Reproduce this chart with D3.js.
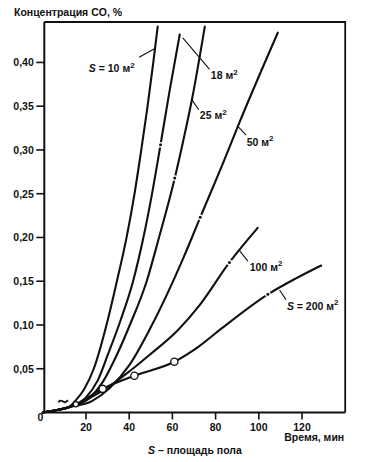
<!DOCTYPE html>
<html><head><meta charset="utf-8">
<script src="https://cdn.jsdelivr.net/npm/d3@7"></script>
<style>
body{margin:0;background:#fff}
svg{display:block}
text{font-family:"Liberation Sans",Arial,sans-serif;font-weight:bold;fill:#111}
</style>
</head><body>
<svg id="c" width="366" height="462"></svg>
<script>
// ---- data ----
const yTicks = [0.05, 0.10, 0.15, 0.20, 0.25, 0.30, 0.35, 0.40];
const yTickLabels = ["0,05", "0,10", "0,15", "0,20", "0,25", "0,30", "0,35", "0,40"];
const xTicks = [20, 40, 60, 80, 100, 120];
const xTickLabels = ["20", "40", "60", "80", "100", "120"];

const s10 = [[0,0],[6,0.0025],[12,0.006],[15.3,0.014],[19,0.026],[23.6,0.05],[30.1,0.106],[34.3,0.15],[38.7,0.199],[42.4,0.249],[45.4,0.297],[48.4,0.348],[51.2,0.401],[53.2,0.441]];
const s18 = [[0,0],[6,0.0025],[12,0.006],[19.9,0.017],[25.5,0.037],[30.1,0.066],[36.1,0.106],[41.8,0.15],[46.5,0.199],[50.5,0.249],[54.5,0.306],[58.8,0.369],[63.4,0.432]];
const s25 = [[0,0],[6,0.0025],[12,0.006],[21.8,0.017],[27.8,0.035],[34.3,0.066],[40.3,0.1],[48.1,0.15],[53.7,0.199],[61.1,0.268],[64.8,0.308],[69.0,0.357],[75.0,0.441]];
const s50 = [[0,0],[6,0.0025],[12,0.006],[22.7,0.013],[31,0.028],[40.3,0.055],[49.5,0.095],[64.8,0.175],[72.9,0.223],[84.1,0.289],[90.3,0.327],[108.8,0.434]];
const s100 = [[0,0],[6,0.0025],[12,0.006],[17.1,0.011],[26.4,0.023],[38,0.043],[49.5,0.066],[62.5,0.094],[72.7,0.123],[86.4,0.1715],[99.5,0.211]];
const s200 = [[0,0],[6,0.0025],[12,0.006],[15.3,0.0095],[27.7,0.027],[42.4,0.042],[60.9,0.058],[72,0.075],[82.5,0.0955],[104.2,0.135],[117,0.153],[128.9,0.168]];
const seriesList = [s10, s18, s25, s50, s100, s200];

// marks on curves (dot in a gap)
const dotMarks = [[54.5,0.306],[61.1,0.268],[72.9,0.223],[86.4,0.1715],[104.2,0.135]];
// open circles
const openCircles = [[27.7,0.027,3.6],[42.4,0.042,3.6],[60.9,0.058,3.6],[15.3,0.0095,2.6]];
// small tilde mark
const squiggle = [[7.2,0.0115],[8.1,0.0142],[9,0.0132],[9.9,0.0115],[10.8,0.0118],[11.6,0.0142]];

// curve labels
const curveLabels = [
  {t:21.3, c:0.389, s:true,  txt:" = 10 м"},
  {t:77.8, c:0.381, s:false, txt:"18 м"},
  {t:72.7, c:0.335, s:false, txt:"25 м"},
  {t:94.4, c:0.305, s:false, txt:"50 м"},
  {t:95.8, c:0.162, s:false, txt:"100 м"},
  {t:113,  c:0.1175,s:true,  txt:" = 200 м"}
];
const leaders = [
  [[44.6,0.406],[51.9,0.416]],
  [[64.8,0.428],[77.2,0.392]],
  [[69.1,0.357],[72.2,0.346]],
  [[90.3,0.327],[94.1,0.317]],
  [[91.1,0.185],[94.9,0.173]],
  [[109.6,0.140],[112.6,0.129]]
];

// ---- scales ----
const x = d3.scaleLinear().domain([0, 140]).range([42.8, 345.2]);
const y = d3.scaleLinear().domain([0, 0.4462]).range([412.5, 22]);
const xMax = 140, yMax = 0.4462;

const svg = d3.select("#c");
const axisX = x(0) + 1.5;

// frame
svg.append("path")
  .attr("d", `M${axisX},${y(yMax)}H${x(xMax)}V${y(0)}`)
  .attr("fill","none").attr("stroke","#111").attr("stroke-width",1.8);
svg.append("line").attr("x1",axisX).attr("x2",axisX).attr("y1",y(yMax)).attr("y2",y(0))
  .attr("stroke","#111").attr("stroke-width",2);
svg.append("line").attr("x1",axisX).attr("x2",x(xMax)).attr("y1",y(0)).attr("y2",y(0))
  .attr("stroke","#111").attr("stroke-width",2);

// y ticks
const gy = svg.append("g");
yTicks.forEach((v,i)=>{
  gy.append("line").attr("x1",axisX-8).attr("x2",axisX).attr("y1",y(v)).attr("y2",y(v))
    .attr("stroke","#111").attr("stroke-width",1.6);
  gy.append("text").attr("x",axisX-10.5).attr("y",y(v)+3.8).attr("text-anchor","end")
    .attr("font-size",10.5).text(yTickLabels[i]);
});
// x ticks
const gx = svg.append("g");
xTicks.forEach((v,i)=>{
  gx.append("line").attr("x1",x(v)).attr("x2",x(v)).attr("y1",y(0)).attr("y2",y(0)+7)
    .attr("stroke","#111").attr("stroke-width",1.6);
  gx.append("text").attr("x",x(v)).attr("y",y(0)+18).attr("text-anchor","middle")
    .attr("font-size",10.5).text(xTickLabels[i]);
});
svg.append("text").attr("x",axisX-4).attr("y",y(0)+8.5).attr("text-anchor","middle")
  .attr("font-size",10.5).text("0");

// titles
svg.append("text").attr("x",14).attr("y",16).attr("font-size",10.5).text("Концентрация CO, %");
svg.append("text").attr("x",x(xMax)-1).attr("y",441).attr("text-anchor","end")
  .attr("font-size",10.5).text("Время, мин");
const st = svg.append("text").attr("x",148).attr("y",454).attr("font-size",10.5);
st.append("tspan").attr("font-style","italic").text("S");
st.append("tspan").text(" – площадь пола");

// curves
const line = d3.line().x(d=>x(d[0])).y(d=>y(d[1])).curve(d3.curveMonotoneX);
svg.append("g").selectAll("path").data(seriesList).join("path")
  .attr("d", line).attr("fill","none").attr("stroke","#111").attr("stroke-width",2.1)
  .attr("stroke-linejoin","round").attr("stroke-linecap","round");

// leaders
svg.append("g").selectAll("path").data(leaders).join("path")
  .attr("d", d3.line().x(d=>x(d[0])).y(d=>y(d[1])))
  .attr("stroke","#111").attr("stroke-width",1.1).attr("fill","none");

// dot marks
const gd = svg.append("g");
dotMarks.forEach(d=>{
  gd.append("circle").attr("cx",x(d[0])).attr("cy",y(d[1])).attr("r",2.8).attr("fill","#fff");
  gd.append("circle").attr("cx",x(d[0])).attr("cy",y(d[1])).attr("r",1.5).attr("fill","#111");
});
// open circles
svg.append("g").selectAll("circle").data(openCircles).join("circle")
  .attr("cx",d=>x(d[0])).attr("cy",d=>y(d[1])).attr("r",d=>d[2])
  .attr("fill","#fff").attr("stroke","#111").attr("stroke-width",1.3);
// squiggle
svg.append("path").datum(squiggle)
  .attr("d", d3.line().x(d=>x(d[0])).y(d=>y(d[1])).curve(d3.curveBasis))
  .attr("fill","none").attr("stroke","#111").attr("stroke-width",1.8);

// curve labels
curveLabels.forEach(l=>{
  const t = svg.append("text").attr("x",x(l.t)).attr("y",y(l.c)).attr("font-size",10.5);
  if(l.s) t.append("tspan").attr("font-style","italic").text("S");
  t.append("tspan").text(l.txt);
  t.append("tspan").attr("font-size",8).attr("dy",-4.5).text("2");
});
</script>
</body></html>
